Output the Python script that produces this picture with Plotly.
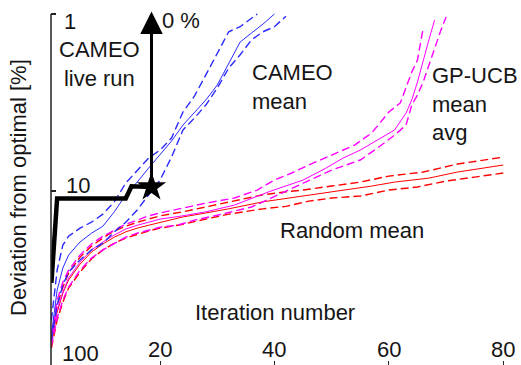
import math
import plotly.graph_objects as go

# ---------------- data (deviation from optimal, %) ----------------
cameo_x = [1, 2, 3, 4, 6, 8, 10, 12, 14, 16, 18, 20, 22, 24, 26, 28, 30, 32, 34, 36, 38, 40]
cameo_mean = [65.1, 36.3, 27.2, 23.0, 19.4, 17.3, 15.8, 13.1, 10.5, 8.90, 7.42, 6.26, 5.22, 4.24,
              3.58, 3.06, 2.52, 1.89, 1.44, 1.28, 1.14, 1.00]
cameo_up_x = [1, 2, 3, 4, 6, 8, 10, 12, 14, 16, 18, 20, 22, 24, 26, 28, 30, 32, 34, 36, 37]
cameo_up = [53.6, 28.0, 20.2, 18.0, 16.2, 15.0, 13.5, 11.5, 9.01, 7.61, 6.51, 5.87, 5.02, 3.58,
            2.91, 2.21, 1.66, 1.26, 1.18, 1.05, 1.00]
cameo_lo_x = [1, 2, 3, 4, 6, 8, 10, 12, 14, 16, 18, 20, 22, 24, 26, 28, 30, 32, 34, 36, 38, 40, 42]
cameo_lo = [69.5, 44.1, 34.0, 28.7, 24.5, 21.5, 19.7, 17.0, 15.0, 12.8, 10.5, 8.67, 6.43, 4.52,
            3.87, 3.27, 2.62, 2.02, 1.70, 1.40, 1.26, 1.18, 1.03]

gp_x = [1, 2, 3, 4, 6, 8, 10, 12, 14, 16, 18, 20, 24, 28, 33, 39, 45, 49, 52, 55, 58, 61, 63, 64,
        65, 66, 67, 68]
gp_mean = [69.5, 47.0, 37.2, 31.0, 25.2, 21.5, 19.4, 17.7, 16.4, 15.6, 15.0, 14.4, 13.8, 13.1,
           12.0, 10.1, 8.67, 7.42, 6.51, 5.87, 5.15, 4.52, 3.63, 3.06, 2.42, 1.82, 1.40, 1.08]
gp_up_x = [1, 2, 3, 4, 6, 8, 10, 12, 14, 16, 18, 20, 24, 28, 33, 37, 40, 43, 46, 50, 54, 57, 60,
           62, 63, 64, 65, 66]
gp_up = [65.1, 41.3, 32.7, 28.0, 23.0, 19.9, 18.0, 16.6, 15.4, 14.6, 13.8, 13.3, 12.5, 11.7,
         10.95, 9.87, 8.67, 7.91, 7.13, 6.26, 5.50, 4.70, 3.58, 3.18, 2.59, 2.13, 1.82, 1.20]
gp_lo_x = [1, 2, 3, 4, 6, 8, 10, 12, 14, 16, 18, 20, 23, 26, 30, 36, 38, 42, 46, 50, 55, 58, 61,
           63, 64, 65, 66, 67, 68, 69, 70]
gp_lo = [74.2, 52.2, 41.3, 34.9, 28.0, 23.9, 21.5, 19.7, 18.2, 17.3, 16.6, 16.0, 15.6, 14.6,
         13.7, 12.3, 11.5, 10.0, 8.67, 7.61, 6.68, 5.72, 4.83, 4.24, 3.27, 2.87, 2.42, 1.94,
         1.60, 1.26, 1.04]

rnd_x = [1, 2, 3, 4, 6, 8, 10, 12, 14, 16, 18, 20, 24, 28, 32, 38, 45, 51, 57, 61, 67, 72, 80]
rnd_mean = [72.2, 48.3, 37.7, 31.8, 25.9, 22.1, 19.9, 18.2, 17.0, 16.2, 15.6, 15.0, 14.0, 13.3,
            12.6, 11.5, 10.7, 10.0, 9.37, 8.90, 8.45, 7.81, 7.13]
rnd_up_x = [1, 2, 3, 4, 6, 8, 10, 12, 14, 16, 18, 20, 24, 28, 30, 34, 38, 42, 45, 50, 55, 60, 66,
            72, 80]
rnd_up = [67.7, 44.1, 34.9, 29.1, 23.6, 20.5, 18.4, 16.8, 15.8, 15.0, 14.4, 13.8, 13.1, 12.3,
          12.0, 11.2, 10.5, 10.1, 9.87, 9.37, 8.90, 8.23, 7.81, 7.04, 6.43]
rnd_lo_x = [1, 2, 3, 4, 6, 8, 10, 12, 14, 16, 18, 20, 24, 28, 32, 38, 42, 46, 50, 55, 60, 65, 70,
            75, 80]
rnd_lo = [77.1, 53.6, 42.4, 35.3, 28.7, 24.2, 21.5, 19.7, 18.4, 17.5, 16.8, 16.2, 15.4, 14.4,
          13.5, 12.6, 12.2, 11.4, 10.95, 10.67, 9.87, 9.49, 8.78, 8.34, 7.91]

live_x = [1, 2, 14, 15, 18.5]
live_y = [33, 11, 11, 9.4, 9.5]
arrow_target = 0.97  # the "0 %" direction arrow tip

x_ticks = [20, 40, 60, 80]
x_tick_labels = ["20", "40", "60", "80"]
y_ticks = [1, 10, 100]
y_tick_labels = ["1", "10", "100"]

# ---------------- figure ----------------
W, H = 521, 365
L = 51
PW = W - L
FONT = "Liberation Sans, Arial, Helvetica, sans-serif"
TXT = "#151515"

fig = go.Figure()
DASH = "8px,4px"


def band(xs, ys, color, dash, width, name):
    fig.add_trace(go.Scatter(x=xs, y=ys, mode="lines", name=name, showlegend=False,
                             line=dict(color=color, width=width, dash=dash)))


band(rnd_up_x, rnd_up, "#ff0000", DASH, 1.4, "Random upper")
band(rnd_lo_x, rnd_lo, "#ff0000", DASH, 1.4, "Random lower")
band(rnd_x, rnd_mean, "#ff0000", "solid", 1.0, "Random mean")
band(gp_up_x, gp_up, "#ff00ff", DASH, 1.4, "GP-UCB upper")
band(gp_lo_x, gp_lo, "#ff00ff", DASH, 1.4, "GP-UCB lower")
band(gp_x, gp_mean, "#ff00ff", "solid", 1.0, "GP-UCB mean")
band(cameo_up_x, cameo_up, "#2a2aff", DASH, 1.4, "CAMEO upper")
band(cameo_lo_x, cameo_lo, "#2a2aff", DASH, 1.4, "CAMEO lower")
band(cameo_x, cameo_mean, "#2a2aff", "solid", 1.0, "CAMEO mean")

fig.add_trace(go.Scatter(x=live_x, y=live_y, mode="lines", showlegend=False,
                         line=dict(color="black", width=4.5)))
fig.add_trace(go.Scatter(x=[live_x[-1]], y=[live_y[-1]], mode="markers", showlegend=False,
                         cliponaxis=False,
                         marker=dict(symbol="star", size=22, color="black")))

# arrow from the star up to 0 %
fig.add_annotation(x=live_x[-1], y=math.log10(arrow_target), xref="x", yref="y",
                   ax=live_x[-1], ay=math.log10(live_y[-1]), axref="x", ayref="y",
                   text="", showarrow=True, arrowhead=2, arrowsize=1.5, arrowwidth=3,
                   arrowcolor="black")


def px_x(px):
    return (px - L) / PW


def px_y(py):
    return 1 - py / H


def label(text, px, py, xanchor="left", align="left", angle=0):
    fig.add_annotation(text=text, x=px_x(px), y=px_y(py), xref="paper", yref="paper",
                       xanchor=xanchor, yanchor="middle", align=align, showarrow=False,
                       textangle=angle, font=dict(family=FONT, size=22, color=TXT))


label("0 %", 160, 20)
label("CAMEO<br>live run", 99, 64, xanchor="center", align="center")
label("CAMEO<br>mean", 250, 87)
label("GP-UCB<br>mean<br>avg", 430, 104)
label("Random mean", 278, 231)
label("Iteration number", 193, 312)
label("Deviation from optimal [%]", 18, 188, xanchor="center", align="center", angle=-90)

# tick labels
for v, t in zip(x_ticks, x_tick_labels):
    fig.add_annotation(text=t, x=v, y=px_y(349), xref="x", yref="paper", xanchor="center",
                       yanchor="middle", showarrow=False,
                       font=dict(family=FONT, size=22, color=TXT))
for t, (lx, ly) in zip(y_tick_labels, [(62, 22), (64, 185), (60, 353)]):
    label(t, lx, ly)

# y axis line starting at the "1" bracket
fig.add_shape(type="line", xref="paper", yref="y", x0=0, x1=0, y0=1, y1=200,
              line=dict(color="#222", width=1.5))

fig.update_layout(
    width=W, height=H,
    margin=dict(l=L, r=0, t=0, b=0),
    paper_bgcolor="white", plot_bgcolor="white",
    xaxis=dict(range=[0.93, 83.1], showgrid=False, zeroline=False, showline=False,
               ticks="inside", ticklen=4, tickwidth=1, tickcolor="#222",
               tickvals=x_ticks, showticklabels=False),
    yaxis=dict(type="log", range=[math.log10(96.0), math.log10(0.834)],
               showgrid=False, zeroline=False, showline=False,
               ticks="inside", ticklen=5, tickwidth=1.5, tickcolor="#222",
               tickvals=y_ticks, showticklabels=False),
)

fig.write_html("out.html")
